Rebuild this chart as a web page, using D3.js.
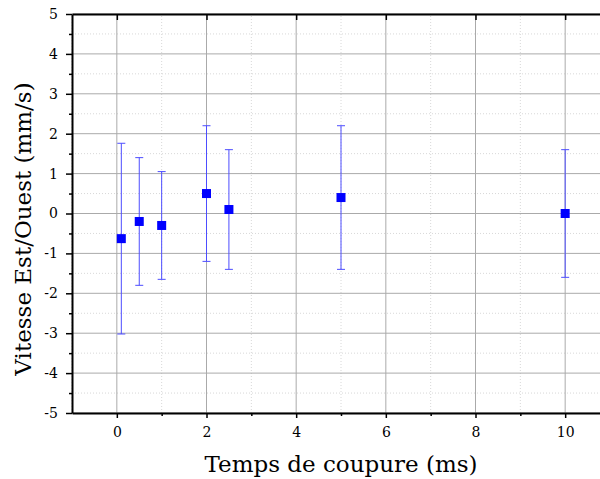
<!DOCTYPE html>
<html>
<head>
<meta charset="utf-8">
<script src="https://cdn.jsdelivr.net/npm/d3@7"></script>
<style>
  body { margin: 0; background: #fff; }
  svg { display: block; }
</style>
</head>
<body>
<div id="chart"></div>
<script>
// Cut-off time (ms) and east/west speed (mm/s) with error bar ends
var temps = [0.1, 0.5, 1, 2, 2.5, 5, 10];
var vitesse = [-0.63, -0.2, -0.3, 0.5, 0.1, 0.4, 0];
var errHaut = [1.76, 1.4, 1.05, 2.2, 1.6, 2.2, 1.6];
var errBas = [-3.02, -1.8, -1.65, -1.2, -1.4, -1.4, -1.6];
var xTicks = [0, 2, 4, 6, 8, 10];
var yTicks = [-5, -4, -3, -2, -1, 0, 1, 2, 3, 4, 5];

var width = 600, height = 479;
var margin = {top: 14, left: 72, bottom: 66, right: -10};

var svg = d3.select('#chart')
  .append('svg')
    .attr('width', width)
    .attr('height', height);

var x = d3.scaleLinear()
  .domain([-1, 11])
  .range([margin.left, width - margin.right]);
var y = d3.scaleLinear()
  .domain([-5, 5])
  .range([height - margin.bottom, margin.top]);

var font = '"DejaVu Serif", "Liberation Serif", serif';
var fmt = function(d) { return String(d); };

// minor grid (dotted)
var xMinor = [-1, 1, 3, 5, 7, 9, 11];
var yMinor = d3.range(-4.5, 5, 1);
svg.append('g').selectAll('line')
  .data(xMinor).enter().append('line')
    .attr('x1', d => x(d)).attr('x2', d => x(d))
    .attr('y1', y(-5)).attr('y2', y(5))
    .attr('stroke', '#d8d8d8').attr('stroke-dasharray', '1,2');
svg.append('g').selectAll('line')
  .data(yMinor).enter().append('line')
    .attr('x1', x(-1)).attr('x2', width)
    .attr('y1', d => y(d)).attr('y2', d => y(d))
    .attr('stroke', '#d8d8d8').attr('stroke-dasharray', '1,2');

// major grid
svg.append('g').selectAll('line')
  .data(xTicks).enter().append('line')
    .attr('x1', d => x(d)).attr('x2', d => x(d))
    .attr('y1', y(-5)).attr('y2', y(5))
    .attr('stroke', '#aaaaaa');
svg.append('g').selectAll('line')
  .data(yTicks).enter().append('line')
    .attr('x1', x(-1)).attr('x2', width)
    .attr('y1', d => y(d)).attr('y2', d => y(d))
    .attr('stroke', '#aaaaaa');

// bottom axis
svg.append('g')
  .attr('transform', 'translate(0,' + y(-5) + ')')
  .call(d3.axisBottom(x).tickValues(xTicks).tickFormat(fmt).tickSize(5).tickPadding(9).tickSizeOuter(0));
svg.append('g')
  .attr('transform', 'translate(0,' + y(-5) + ')')
  .call(d3.axisBottom(x).tickValues([1, 3, 5, 7, 9]).tickSize(3).tickFormat('').tickSizeOuter(0))
  .select('.domain').remove();

// top axis (inward ticks)
svg.append('g')
  .attr('transform', 'translate(0,' + y(5) + ')')
  .call(d3.axisBottom(x).tickValues(xTicks).tickSize(6).tickFormat('').tickSizeOuter(0));

// left axis
svg.append('g')
  .attr('transform', 'translate(' + x(-1) + ',0)')
  .call(d3.axisLeft(y).tickValues(yTicks).tickFormat(fmt).tickSize(6).tickPadding(8).tickSizeOuter(0));
svg.append('g')
  .attr('transform', 'translate(' + x(-1) + ',0)')
  .call(d3.axisLeft(y).tickValues(yMinor).tickSize(3).tickFormat('').tickSizeOuter(0))
  .select('.domain').remove();

svg.selectAll('.domain').attr('stroke', '#000').attr('stroke-width', 2);
svg.selectAll('.tick line').attr('stroke', '#000').attr('stroke-width', 1.5);
svg.selectAll('.tick text')
  .style('font-family', font)
  .style('font-size', '14px')
  .attr('fill', '#000');

// axis titles
svg.append('text')
  .attr('x', x(5)).attr('y', 472)
  .attr('text-anchor', 'middle')
  .style('font-family', font)
  .style('font-size', '23px')
  .text('Temps de coupure (ms)');
svg.append('text')
  .attr('transform', 'translate(31,229) rotate(-90)')
  .attr('text-anchor', 'middle')
  .style('font-family', font)
  .style('font-size', '23px')
  .text('Vitesse Est/Ouest (mm/s)');

// error bars
var pts = temps.map(function(t, i) {
  return {t: t, v: vitesse[i], hi: errHaut[i], lo: errBas[i]};
});
var eb = svg.append('g').attr('stroke', '#4d4dff').attr('stroke-width', 1);
eb.selectAll('line.bar').data(pts).enter().append('line')
  .attr('x1', d => x(d.t)).attr('x2', d => x(d.t))
  .attr('y1', d => y(d.hi)).attr('y2', d => y(d.lo));
eb.selectAll('line.cap-hi').data(pts).enter().append('line')
  .attr('x1', d => x(d.t) - 4).attr('x2', d => x(d.t) + 4)
  .attr('y1', d => y(d.hi)).attr('y2', d => y(d.hi));
eb.selectAll('line.cap-lo').data(pts).enter().append('line')
  .attr('x1', d => x(d.t) - 4).attr('x2', d => x(d.t) + 4)
  .attr('y1', d => y(d.lo)).attr('y2', d => y(d.lo));

// markers
svg.append('g').selectAll('rect')
  .data(pts).enter().append('rect')
    .attr('x', d => x(d.t) - 4.5)
    .attr('y', d => y(d.v) - 4.5)
    .attr('width', 9).attr('height', 9)
    .attr('fill', '#0000ff');
</script>
</body>
</html>
